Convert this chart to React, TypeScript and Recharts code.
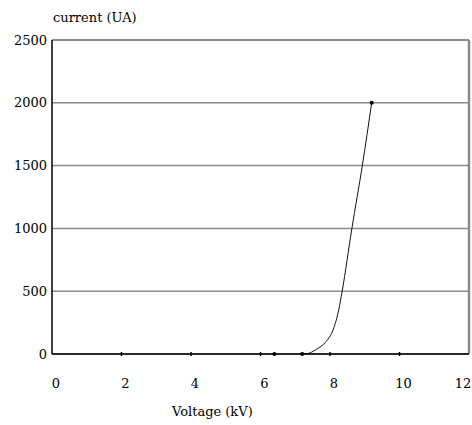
import React from "react";
import {
  ComposedChart,
  Line,
  Scatter,
  XAxis,
  YAxis,
  CartesianGrid,
  ReferenceLine,
} from "recharts";

// measured points (voltage kV, current UA)
const MEASURED_VOLTAGE = [6.4, 7.2, 9.2];
const MEASURED_CURRENT = [0, 0, 2000];

// fitted curve
const CURVE_VOLTAGE = [7.2, 7.35, 7.59, 7.89, 8.09, 8.25, 8.35, 8.63, 8.93, 9.2];
const CURVE_CURRENT = [0, 3, 34, 100, 193, 350, 500, 1000, 1500, 2000];

const X_TICKS = [0, 2, 4, 6, 8, 10, 12];
const Y_TICKS = [0, 500, 1000, 1500, 2000, 2500];

const measured = MEASURED_VOLTAGE.map((v, i) => ({ v, c: MEASURED_CURRENT[i] }));
const curve = CURVE_VOLTAGE.map((v, i) => ({ v, c: CURVE_CURRENT[i] }));

const FONT = "'DejaVu Serif', serif";

// tick mark pointing up into the plot, label below
// eslint-disable-next-line @typescript-eslint/no-explicit-any
function XTick(props: any) {
  const { x, y, payload } = props;
  const showMark = payload.value > 0 && payload.value < 12;
  return (
    <g>
      {showMark && <line x1={x} x2={x} y1={y} y2={y - 4} stroke="#000" strokeWidth={1.5} />}
      <text
        x={Math.min(x + 4, 463)}
        y={y + 32}
        textAnchor="middle"
        fontFamily={FONT}
        fontSize={13}
        fill="#000"
      >
        {payload.value}
      </text>
    </g>
  );
}

export default function App() {
  return (
    <div style={{ position: "absolute", left: 0, top: 0, width: 472, height: 425, background: "#fff" }}>
      <ComposedChart
        width={472}
        height={425}
        margin={{ top: 40, right: 3, bottom: 70, left: 51 }}
      >
        <CartesianGrid horizontal vertical={false} stroke="#8a8a8a" strokeWidth={1.5} />
        <ReferenceLine y={2500} stroke="#8a8a8a" strokeWidth={2} />
        <ReferenceLine x={12} stroke="#8a8a8a" strokeWidth={2.5} />
        <XAxis
          type="number"
          dataKey="v"
          domain={[0, 12]}
          ticks={X_TICKS}
          interval={0}
          height={1}
          tick={<XTick />}
          tickLine={false}
          tickSize={0}
          axisLine={{ stroke: "#000", strokeWidth: 1.5 }}
        />
        <YAxis
          type="number"
          dataKey="c"
          domain={[0, 2500]}
          ticks={Y_TICKS}
          interval={0}
          width={1}
          tickLine={false}
          tickSize={0}
          tickMargin={5}
          tick={{ fill: "#000", fontSize: 13, fontFamily: FONT }}
          axisLine={{ stroke: "#000", strokeWidth: 1.5 }}
        />
        <Line
          data={curve}
          dataKey="c"
          type="monotone"
          stroke="#111"
          strokeWidth={1}
          dot={false}
          activeDot={false}
          isAnimationActive={false}
        />
        <Scatter
          data={measured}
          dataKey="c"
          fill="#000"
          shape={(p: any) => <circle cx={p.cx} cy={p.cy} r={2} fill="#000" />}
          isAnimationActive={false}
        />
      </ComposedChart>
      <div
        style={{
          position: "absolute",
          left: 53,
          top: 10,
          fontFamily: FONT,
          fontSize: 13,
          color: "#000",
        }}
      >
        current (UA)
      </div>
      <div
        style={{
          position: "absolute",
          left: 172,
          top: 404,
          fontFamily: FONT,
          fontSize: 13,
          color: "#000",
        }}
      >
        Voltage (kV)
      </div>
    </div>
  );
}
